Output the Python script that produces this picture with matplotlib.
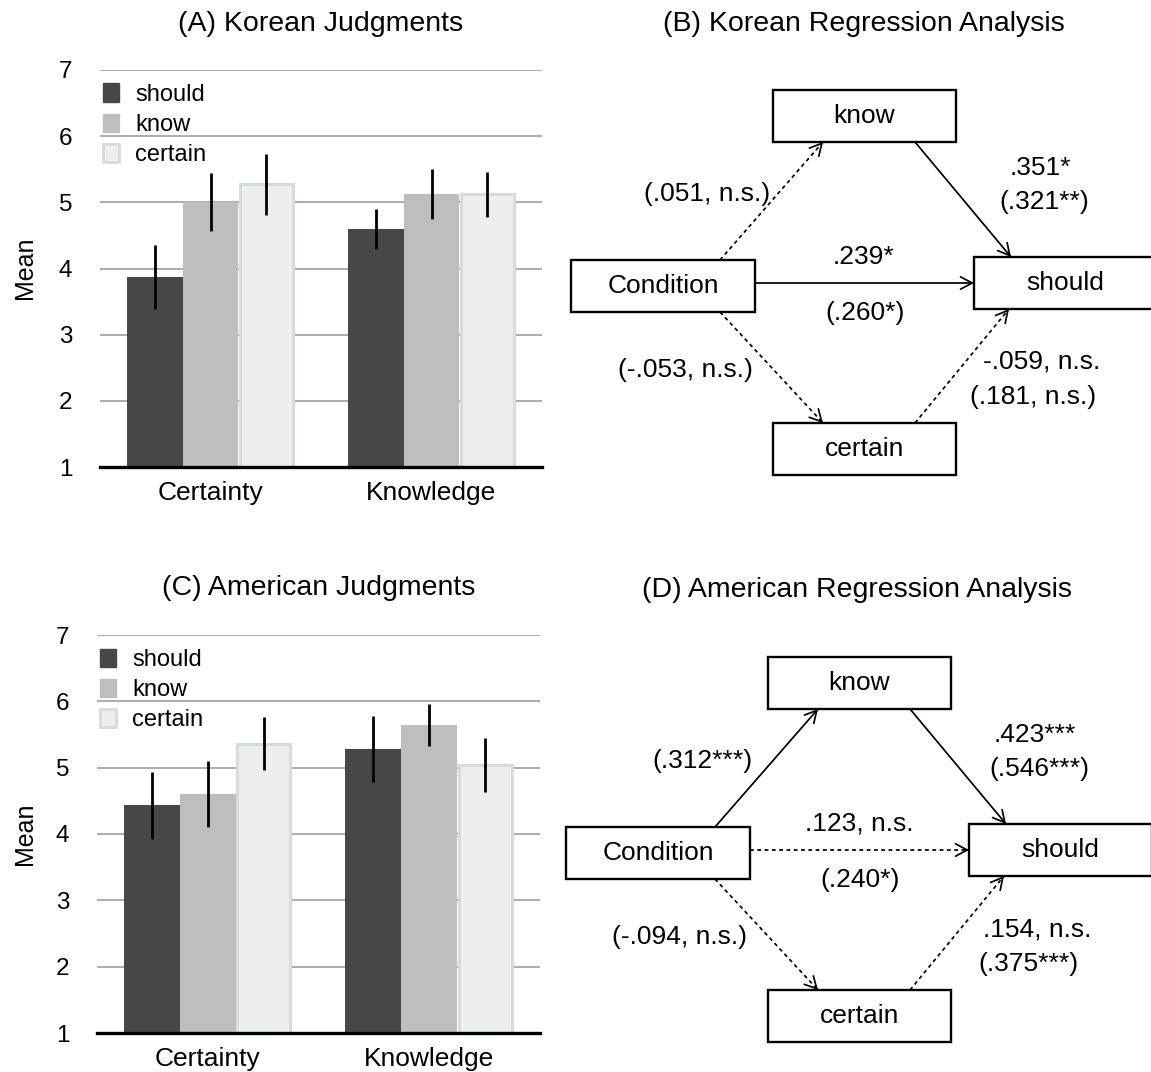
import matplotlib
matplotlib.use('Agg')
import matplotlib.pyplot as plt
from matplotlib.patches import Rectangle, Patch
import numpy as np

plt.rcParams['font.family'] = ['Liberation Sans', 'DejaVu Sans']

# ---------------- data ----------------
categories = ['Certainty', 'Knowledge']
series_names = ['should', 'know', 'certain']

korean_should = [3.87, 4.60]
korean_know = [5.01, 5.13]
korean_certain = [5.27, 5.12]
korean_should_err = [0.48, 0.30]
korean_know_err = [0.44, 0.375]
korean_certain_err = [0.46, 0.34]

american_should = [4.43, 5.28]
american_know = [4.60, 5.64]
american_certain = [5.36, 5.04]
american_should_err = [0.50, 0.50]
american_know_err = [0.50, 0.32]
american_certain_err = [0.40, 0.40]

yticks = [1, 2, 3, 4, 5, 6, 7]

node_names = ['know', 'Condition', 'should', 'certain']
edges = [('Condition', 'know'), ('Condition', 'should'), ('Condition', 'certain'),
         ('know', 'should'), ('certain', 'should')]
korean_edge_sig = [False, True, False, True, False]
american_edge_sig = [True, False, False, True, False]
american_edge_dashed = [False, True, False, False, False]

korean_coef_labels = ['(.051, n.s.)', '.351*', '(.321**)', '.239*', '(.260*)',
                      '(-.053, n.s.)', '-.059, n.s.', '(.181, n.s.)']
american_coef_labels = ['(.312***)', '.423***', '(.546***)', '.123, n.s.', '(.240*)',
                        '(-.094, n.s.)', '.154, n.s.', '(.375***)']

# ---------------- style ----------------
W, H = 1151, 1072
fig = plt.figure(figsize=(W / 100, H / 100), dpi=100)

col_should = '#474747'
col_know = '#bebebe'
col_cert = '#eceeef'
col_cert_edge = '#d9dadb'
grid_col = '#9e9e9e'


def px_axes(left, right, top, bottom):
    return fig.add_axes([left / W, (H - bottom) / H, (right - left) / W, (bottom - top) / H])


def bar_panel(ax, should, know, certain, e_should, e_know, e_cert, title, title_xy, mean_xy):
    x = np.arange(len(categories))
    bw = 0.253
    ax.bar(x - bw, np.array(should) - 1, bw, bottom=1, color=col_should, zorder=2, label='should')
    ax.bar(x, np.array(know) - 1, bw, bottom=1, color=col_know, zorder=2, label='know')
    ax.bar(x + bw, np.array(certain) - 1, bw - 0.012, bottom=1, color=col_cert,
           edgecolor=col_cert_edge, linewidth=2.2, zorder=2, label='certain')
    for off, m, e in [(-bw, should, e_should), (0, know, e_know), (bw, certain, e_cert)]:
        ax.errorbar(x + off, m, yerr=e, fmt='none', ecolor='black', elinewidth=2.0,
                    capsize=0, zorder=3)
    ax.set_xlim(-0.5, 1.5)
    ax.set_ylim(1, 7)
    ax.set_yticks(yticks)
    ax.set_yticklabels([str(t) for t in yticks], fontsize=17.5)
    ax.set_xticks(x)
    ax.set_xticklabels(categories, fontsize=19)
    ax.tick_params(axis='y', length=0, pad=20)
    ax.tick_params(axis='x', length=0, pad=10)
    ax.yaxis.grid(True, color=grid_col, linewidth=1.2)
    ax.set_axisbelow(True)
    for s in ['top', 'right', 'left']:
        ax.spines[s].set_visible(False)
    ax.spines['bottom'].set_color('black')
    ax.spines['bottom'].set_linewidth(2.4)
    ax.spines['bottom'].set_zorder(4)
    ax.patch.set_alpha(0)
    handles = [Patch(facecolor=col_should, edgecolor=col_should),
               Patch(facecolor=col_know, edgecolor=col_know),
               Patch(facecolor=col_cert, edgecolor=col_cert_edge, linewidth=2)]
    ax.legend(handles, series_names, loc='upper left', bbox_to_anchor=(0.007, 0.966),
              fontsize=17, frameon=False, handlelength=0.68, handleheight=0.8,
              handletextpad=0.68, labelspacing=0.34, borderpad=0, borderaxespad=0)
    fig.text(title_xy[0] / W, 1 - title_xy[1] / H, title, fontsize=20.5,
             ha='center', va='center')
    fig.text(mean_xy[0] / W, 1 - mean_xy[1] / H, 'Mean', fontsize=18, rotation=90,
             ha='center', va='center')


axA = px_axes(100, 542, 70, 467)
bar_panel(axA, korean_should, korean_know, korean_certain,
          korean_should_err, korean_know_err, korean_certain_err,
          '(A) Korean Judgments', (321, 24), (25, 268))

axC = px_axes(97, 540, 635, 1033)
bar_panel(axC, american_should, american_know, american_certain,
          american_should_err, american_know_err, american_certain_err,
          '(C) American Judgments', (319, 588), (25, 834))

# ---------------- path diagrams ----------------
axd = fig.add_axes([0, 0, 1, 1])
axd.set_xlim(0, W)
axd.set_ylim(H, 0)
axd.axis('off')
axd.patch.set_alpha(0)

node_boxes = {'know': (773, 90, 183, 52), 'Condition': (571, 260, 184, 52),
              'should': (974, 257, 183, 52), 'certain': (773, 423, 183, 52)}
edge_pts = {('Condition', 'know'): ((720, 260), (823, 142)),
            ('Condition', 'should'): ((755, 283), (974, 283)),
            ('Condition', 'certain'): ((720, 312), (823, 423)),
            ('know', 'should'): ((915, 142), (1011, 257)),
            ('certain', 'should'): ((915, 423), (1009, 309))}
label_pos = [(707, 194), (1040, 168), (1044, 202), (864, 257), (865, 313),
             (685, 370), (1042, 362), (1033, 397)]


def diagram(dx, dy, sig, dashed, labels, title, title_xy):
    for name in node_names:
        x0, y0, w, h = node_boxes[name]
        axd.add_patch(Rectangle((x0 + dx, y0 + dy), w, h, facecolor='white',
                                edgecolor='black', linewidth=1.7, zorder=3))
        axd.text(x0 + dx + w / 2, y0 + dy + h / 2, name, fontsize=19,
                 ha='center', va='center', zorder=4)
    for e, s, d in zip(edges, sig, dashed):
        (x1, y1), (x2, y2) = edge_pts[e]
        x1 += dx; x2 += dx; y1 += dy; y2 += dy
        ls = '-' if s else (0, (2.2, 2.0))
        axd.plot([x1, x2], [y1, y2], color='black', linewidth=1.25, linestyle=ls,
                 zorder=2, solid_capstyle='butt')
        v = np.array([x2 - x1, y2 - y1], dtype=float)
        v /= np.hypot(*v)
        axd.annotate('', xy=(x2, y2), xytext=(x2 - v[0] * 3, y2 - v[1] * 3),
                     arrowprops=dict(arrowstyle='->, head_length=0.6, head_width=0.32',
                                     color='black', lw=1.25, shrinkA=0, shrinkB=0,
                                     mutation_scale=14), zorder=2)
    for (lx, ly), t in zip(label_pos, labels):
        axd.text(lx + dx, ly + dy, t, fontsize=19, ha='center', va='center', zorder=4)
    axd.text(title_xy[0], title_xy[1], title, fontsize=20.5, ha='center', va='center')


diagram(0, 0, korean_edge_sig, [False] * 5, korean_coef_labels,
        '(B) Korean Regression Analysis', (864, 24))
diagram(-5, 567, american_edge_sig, american_edge_dashed, american_coef_labels,
        '(D) American Regression Analysis', (857, 590))

fig.savefig('out.png', dpi=100)
